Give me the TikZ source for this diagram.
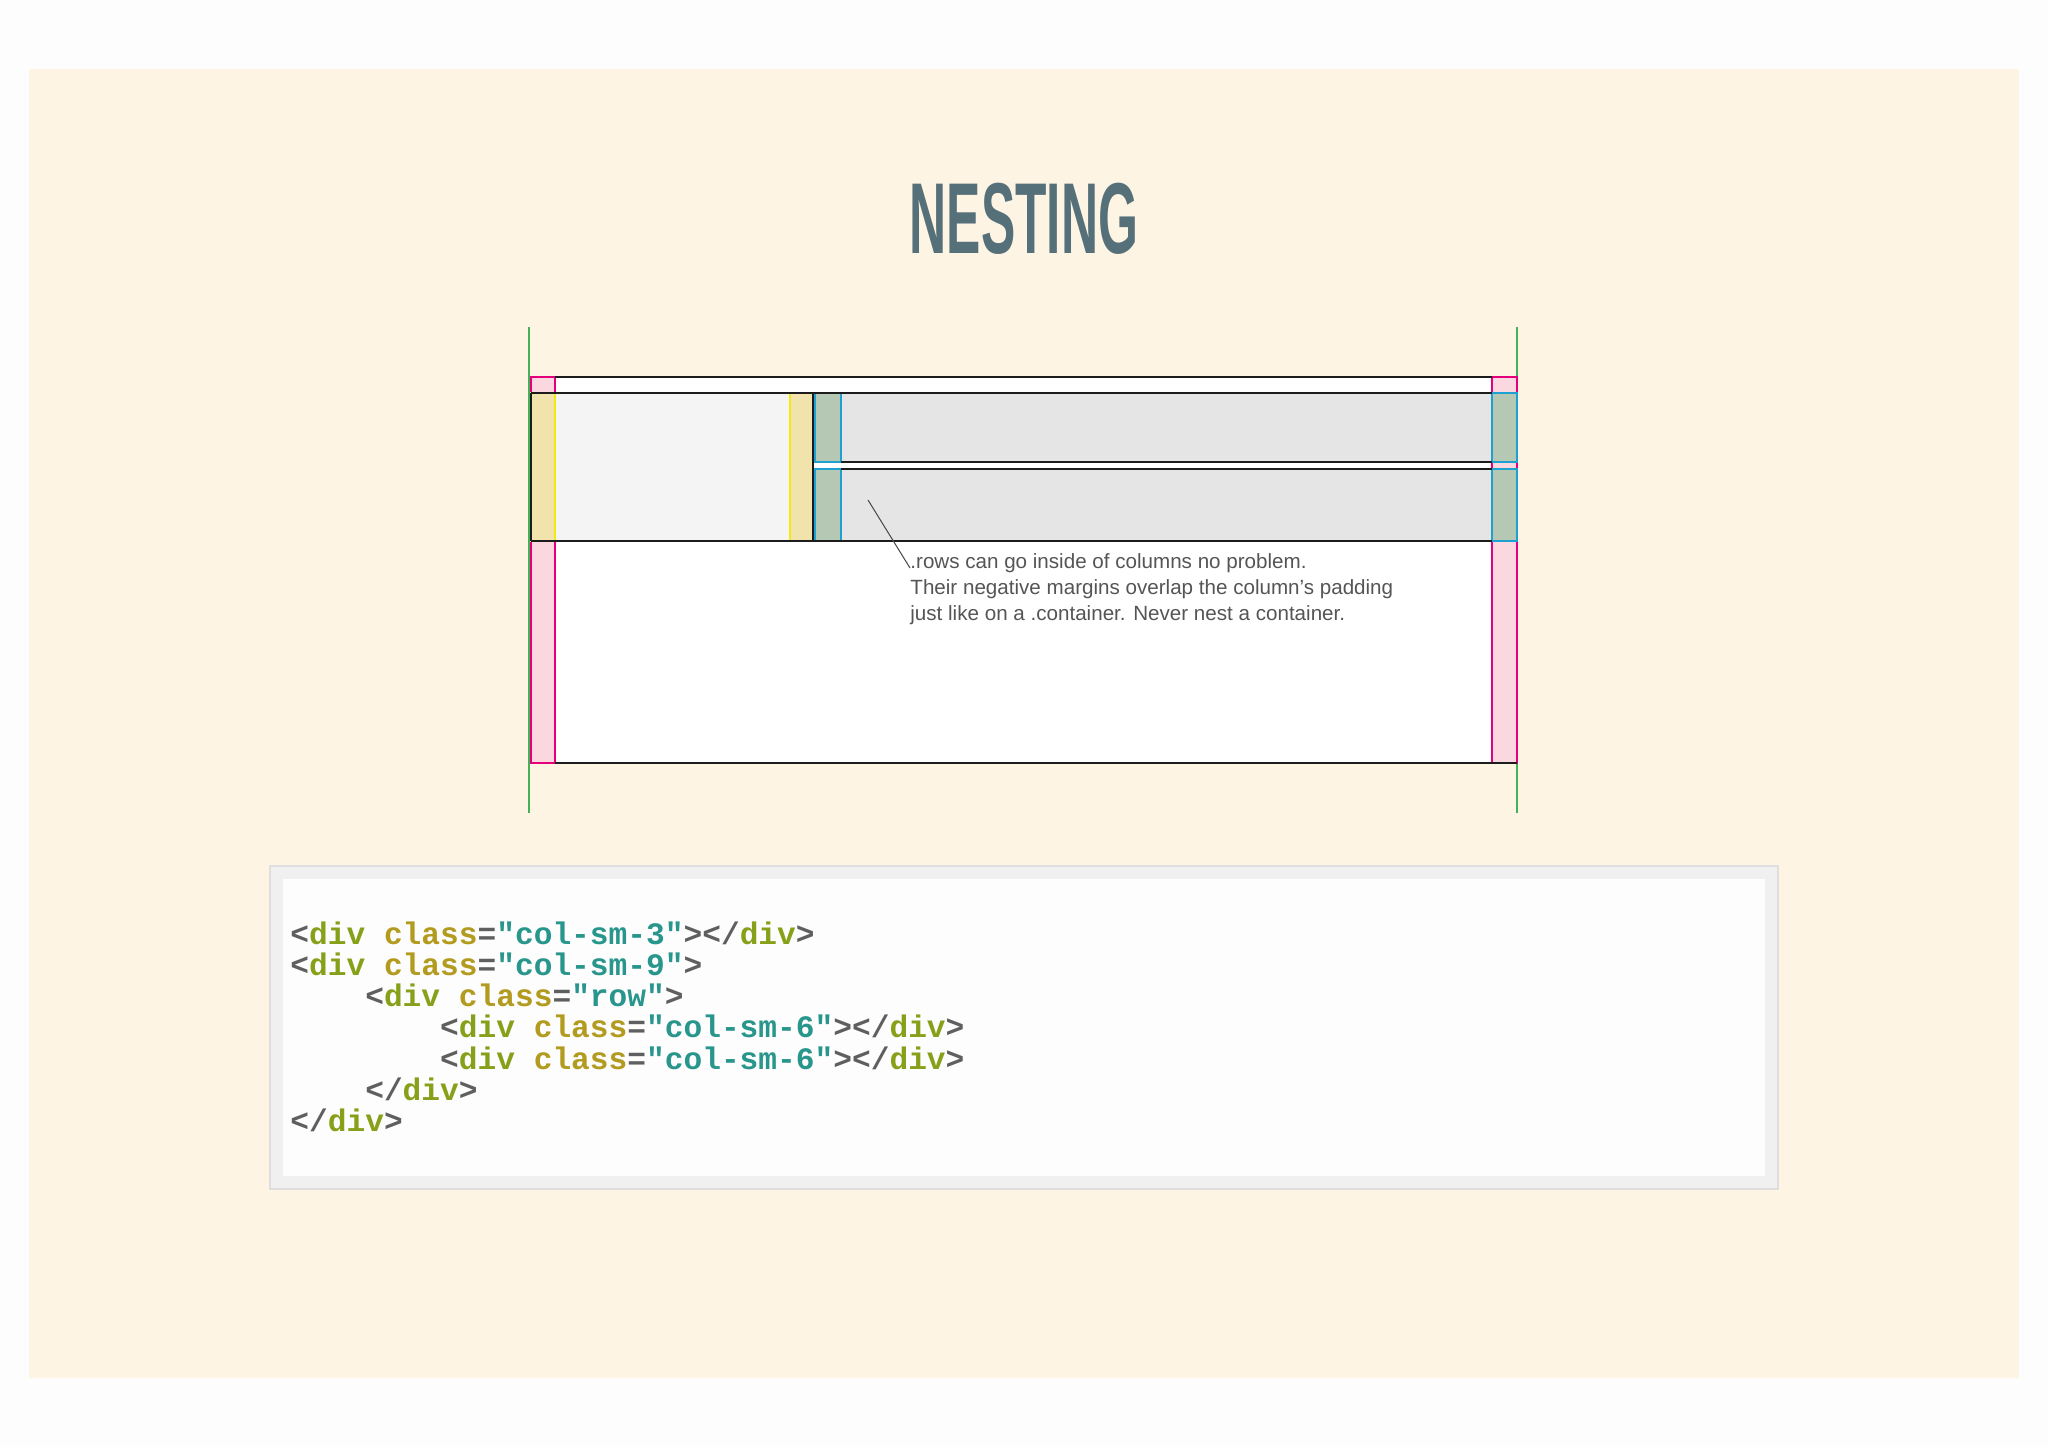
\documentclass[tikz,border=0pt]{standalone}
\usepackage{fontspec}
\setmainfont{Liberation Sans}
\setmonofont{Liberation Mono}
\usepackage{graphicx}

\definecolor{outerbg}{RGB}{253,253,253}
\definecolor{pagebg}{RGB}{253,244,228}
\definecolor{titlec}{RGB}{86,112,122}
\definecolor{col3fill}{RGB}{244,244,244}
\definecolor{col6fill}{RGB}{229,229,229}
\definecolor{notec}{RGB}{85,85,85}
\definecolor{pointerc}{RGB}{70,70,70}
\definecolor{boxedge}{RGB}{222,222,222}
\definecolor{boxrim}{RGB}{240,240,240}
\definecolor{codepunct}{RGB}{95,95,95}
\definecolor{codetag}{RGB}{135,160,25}
\definecolor{codeattr}{RGB}{178,155,30}
\definecolor{codestr}{RGB}{40,150,140}

\newcommand{\cpunct}[1]{\textcolor{codepunct}{#1}}
\newcommand{\ctag}[1]{\textcolor{codetag}{#1}}
\newcommand{\cattr}[1]{\textcolor{codeattr}{#1}}
\newcommand{\cstr}[1]{\textcolor{codestr}{#1}}

\begin{document}
\begin{tikzpicture}[x=0.5pt,y=0.5pt,yscale=-1,xscale=1,
  rule/.style={draw={rgb,255:red,28;green,28;blue,28},line width=1.4pt},
  pinkpad/.style={draw={rgb,255:red,228;green,0;blue,125},fill={rgb,255:red,251;green,216;blue,224},line width=0.9pt},
  yellowpad/.style={draw={rgb,255:red,242;green,234;blue,20},fill={rgb,255:red,238;green,212;blue,100},fill opacity=0.5,line width=0.9pt},
  tealpad/.style={draw={rgb,255:red,30;green,160;blue,210},fill={rgb,255:red,135;green,172;blue,130},fill opacity=0.5,line width=0.9pt},
  guide/.style={draw={rgb,255:red,70;green,175;blue,90},line width=0.6pt}]
\useasboundingbox (0,0) rectangle (2048,1447);
\fill [outerbg] (0,0) rectangle (2048,1447);
\fill [pagebg] (29,69) rectangle (2019,1378);

% Text Node
\draw (1024,219) node [text=titlec][inner sep=0pt][font={\fontsize{50.4}{50.4}\selectfont\bfseries}] (title) {\scalebox{0.51}[1]{NESTING}};

%Straight Lines (guides)
\draw [guide] (529,327) -- (529,813);
\draw [guide] (1517,327) -- (1517,813);

%Shape: Rectangle (container)
\fill [white] (531,377) rectangle (1517,763);
\draw [pinkpad] (531,377) rectangle (555,763);
\draw [pinkpad] (1492,377) rectangle (1517,763);

%Shape: Rectangle (columns)
\fill [col3fill] (531,393) rectangle (813,541);
\fill [col6fill] (813,393) rectangle (1517,462);
\fill [col6fill] (813,469) rectangle (1517,541);

%Shape: Rectangle (column padding)
\draw [yellowpad] (531,393) rectangle (555,541);
\draw [yellowpad] (790,393) rectangle (813,541);
\draw [tealpad] (815,393) rectangle (841,462);
\draw [tealpad] (815,469) rectangle (841,541);
\draw [tealpad] (1492,393) rectangle (1517,462);
\draw [tealpad] (1492,469) rectangle (1517,541);

%Straight Lines
\draw [rule] (555,377) -- (1492,377);
\draw [rule] (531,393) -- (1492,393);
\draw [rule] (841,462) -- (1492,462);
\draw [rule] (841,469) -- (1492,469);
\draw [rule] (531,541) -- (1492,541);
\draw [rule] (531,393) -- (531,541);
\draw [rule] (813,393) -- (813,541);
\draw [rule] (555,763) -- (1517,763);

% Text Node
\draw (910,553) node [anchor=north west][inner sep=0pt][align=left,text=notec,font={\fontsize{10.3}{13}\selectfont}] (note) {.rows can go inside of columns no problem.\\Their negative margins overlap the column's padding\\just like on a .container. Never nest a container.};
\coordinate (tip) at (868,500);
\draw [pointerc,line width=0.5pt] (tip) -- ([yshift=7.5pt]note.north west);

%Shape: Rectangle (code box)
\draw [draw=boxedge,fill=boxrim,line width=0.8pt] (270,866) rectangle (1778,1189);
\fill [outerbg] (283,879) rectangle (1765,1176);

% Text Node
\draw (290,921) node [anchor=north west][inner sep=0pt][align=left,font={\ttfamily\bfseries\fontsize{15.6}{15.65}\selectfont}] (code) {%
\cpunct{<}\ctag{div} \cattr{class}\cpunct{=}\cstr{"col-sm-3"}\cpunct{></}\ctag{div}\cpunct{>}\\
\cpunct{<}\ctag{div} \cattr{class}\cpunct{=}\cstr{"col-sm-9"}\cpunct{>}\\
\phantom{xxxx}\cpunct{<}\ctag{div} \cattr{class}\cpunct{=}\cstr{"row"}\cpunct{>}\\
\phantom{xxxxxxxx}\cpunct{<}\ctag{div} \cattr{class}\cpunct{=}\cstr{"col-sm-6"}\cpunct{></}\ctag{div}\cpunct{>}\\
\phantom{xxxxxxxx}\cpunct{<}\ctag{div} \cattr{class}\cpunct{=}\cstr{"col-sm-6"}\cpunct{></}\ctag{div}\cpunct{>}\\
\phantom{xxxx}\cpunct{</}\ctag{div}\cpunct{>}\\
\cpunct{</}\ctag{div}\cpunct{>}};

\end{tikzpicture}
\end{document}
